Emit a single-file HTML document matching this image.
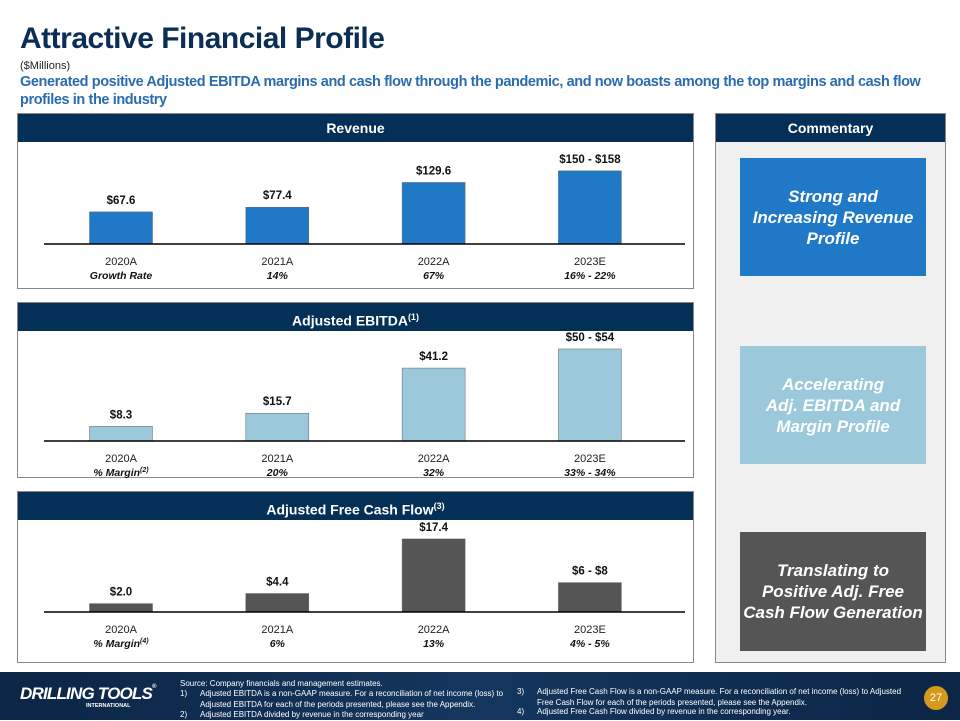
<!DOCTYPE html>
<html><head><meta charset="utf-8">
<style>
*{margin:0;padding:0;box-sizing:border-box}
body{width:960px;height:720px;position:relative;background:#fff;font-family:"Liberation Sans",sans-serif;overflow:hidden}
.abs{position:absolute}
.title{left:20px;top:22px;font-size:30px;font-weight:bold;color:#0c2d54;letter-spacing:-0.5px}
.units{left:20px;top:60px;font-size:11px;color:#222}
.sub{left:20px;top:73px;width:930px;font-size:14.5px;font-weight:bold;color:#2a6cb0;line-height:18px;letter-spacing:-0.4px}
.panel{border:1px solid #888;background:#fff}
.hdr{position:absolute;left:0;right:0;top:0;height:28px;background:#042f57;color:#fff;font-weight:bold;font-size:14px;text-align:center;line-height:28px}
.box{position:absolute;left:24px;width:186px;color:#fff;font-weight:bold;font-style:italic;font-size:17px;line-height:21px;text-align:center;display:flex;align-items:center;justify-content:center}
.footer{left:0;top:672px;width:960px;height:48px;background:linear-gradient(90deg,#0b2545,#14365e 50%,#0b2545)}
.fn{color:#fff;font-size:8px;line-height:10.5px;position:absolute}
</style></head><body>
<div class="abs title">Attractive Financial Profile</div>
<div class="abs units">($Millions)</div>
<div class="abs sub">Generated positive Adjusted EBITDA margins and cash flow through the pandemic, and now boasts among the top margins and cash flow profiles in the industry</div>

<div class="abs panel" style="left:17px;top:113px;width:677px;height:176px">
 <div class="hdr">Revenue</div>
 <svg id="c1" width="677" height="176" class="abs" style="left:-1px;top:-1px"></svg>
</div>
<div class="abs panel" style="left:17px;top:302px;width:677px;height:176px">
 <div class="hdr">Adjusted EBITDA<sup style="font-size:9px">(1)</sup></div>
 <svg id="c2" width="677" height="176" class="abs" style="left:-1px;top:-1px"></svg>
</div>
<div class="abs panel" style="left:17px;top:491px;width:677px;height:172px">
 <div class="hdr">Adjusted Free Cash Flow<sup style="font-size:9px">(3)</sup></div>
 <svg id="c3" width="677" height="172" class="abs" style="left:-1px;top:-1px"></svg>
</div>

<div class="abs panel" style="left:715px;top:113px;width:231px;height:550px;background:#f0f0f0">
 <div class="hdr">Commentary</div>
 <div class="box" style="top:44px;height:118px;background:#2079c7">Strong and<br>Increasing Revenue<br>Profile</div>
 <div class="box" style="top:232px;height:118px;background:#9cc8dc">Accelerating<br>Adj. EBITDA and<br>Margin Profile</div>
 <div class="box" style="top:418px;height:119px;background:#555">Translating to<br>Positive Adj. Free<br>Cash Flow Generation</div>
</div>

<div class="abs footer">
 <div class="abs" style="left:20px;top:12px;color:#fff;font-weight:bold;font-style:italic;font-size:17px;letter-spacing:-0.8px">DRILLING TOOLS<span style="font-size:6px;vertical-align:top">®</span></div>
 <div class="abs" style="left:86px;top:31px;color:#fff;font-size:5.5px;font-weight:bold">INTERNATIONAL</div>
 <div class="fn" style="left:180px;top:7px">Source: Company financials and management estimates.</div>
 <div class="fn" style="left:180px;top:17px;width:330px"><span style="position:absolute;left:0">1)</span><div style="margin-left:20px">Adjusted EBITDA is a non-GAAP measure. For a reconciliation of net income (loss) to Adjusted EBITDA for each of the periods presented, please see the Appendix.</div></div>
 <div class="fn" style="left:180px;top:38px"><span style="position:absolute;left:0">2)</span><div style="margin-left:20px">Adjusted EBITDA divided by revenue in the corresponding year</div></div>
 <div class="fn" style="left:517px;top:15px;width:390px"><span style="position:absolute;left:0">3)</span><div style="margin-left:20px">Adjusted Free Cash Flow is a non-GAAP measure. For a reconciliation of net income (loss) to Adjusted Free Cash Flow for each of the periods presented, please see the Appendix.</div></div>
 <div class="fn" style="left:517px;top:35px"><span style="position:absolute;left:0">4)</span><div style="margin-left:20px">Adjusted Free Cash Flow divided by revenue in the corresponding year.</div></div>
 <div class="abs" style="left:924px;top:14px;width:24px;height:24px;border-radius:50%;background:#d59a1b;color:#fff;font-size:11px;text-align:center;line-height:24px">27</div>
</div>

<script>
const categories = ["2020A","2021A","2022A","2023E"];
const revenueValues = [67.6, 77.4, 129.6, 154];
const revenueLabels = ["$67.6","$77.4","$129.6","$150 - $158"];
const revenueSub = ["Growth Rate","14%","67%","16% - 22%"];
const ebitdaValues = [8.3, 15.7, 41.2, 52];
const ebitdaLabels = ["$8.3","$15.7","$41.2","$50 - $54"];
const ebitdaSub = ["% Margin","20%","32%","33% - 34%"];
const fcfValues = [2.0, 4.4, 17.4, 7];
const fcfLabels = ["$2.0","$4.4","$17.4","$6 - $8"];
const fcfSub = ["% Margin","6%","13%","4% - 5%"];

const NS="http://www.w3.org/2000/svg";
function mk(svg,tag,attrs,txt){const e=document.createElementNS(NS,tag);for(const k in attrs)e.setAttribute(k,attrs[k]);if(txt!==undefined)e.textContent=txt;svg.appendChild(e);return e;}
function draw(id,vals,labels,subs,scale,base,color,supTxt){
  const svg=document.getElementById(id);
  const xc=i=>104+i*156.3;
  const y=v=>base-v*scale;
  vals.forEach((v,i)=>{
    const r=mk(svg,'rect',{x:xc(i)-31.5,y:y(v),width:63,height:base-y(v),fill:color,stroke:'#666','stroke-width':0.5});
    
    
    const t=mk(svg,'text',{x:xc(i),y:y(v)-8,'text-anchor':'middle','font-size':11.5,'font-weight':'bold',fill:'#111','font-family':'Liberation Sans'},labels[i]);
    
    
    const c=mk(svg,'text',{x:xc(i),y:base+21,'text-anchor':'middle','font-size':11,fill:'#222','font-family':'Liberation Sans'},categories[i]);
    
    
    const s=mk(svg,'text',{x:xc(i),y:base+35,'text-anchor':'middle','font-size':10.5,'font-weight':'bold','font-style':'italic',fill:'#111','font-family':'Liberation Sans'},subs[i]);
    if(i===0&&supTxt){mk(s,'tspan',{dy:-4,'font-size':7},supTxt);}
    
    
  });
  const a=mk(svg,'line',{x1:27,x2:668,y1:base,y2:base,stroke:'#000','stroke-width':1.5});
  
  
}
draw('c1',revenueValues,revenueLabels,revenueSub,0.475,131,'#2079c7','');
draw('c2',ebitdaValues,ebitdaLabels,ebitdaSub,1.77,139,'#9cc8dc','(2)');
draw('c3',fcfValues,fcfLabels,fcfSub,4.2,121,'#555','(4)');
</script>
</body></html>
